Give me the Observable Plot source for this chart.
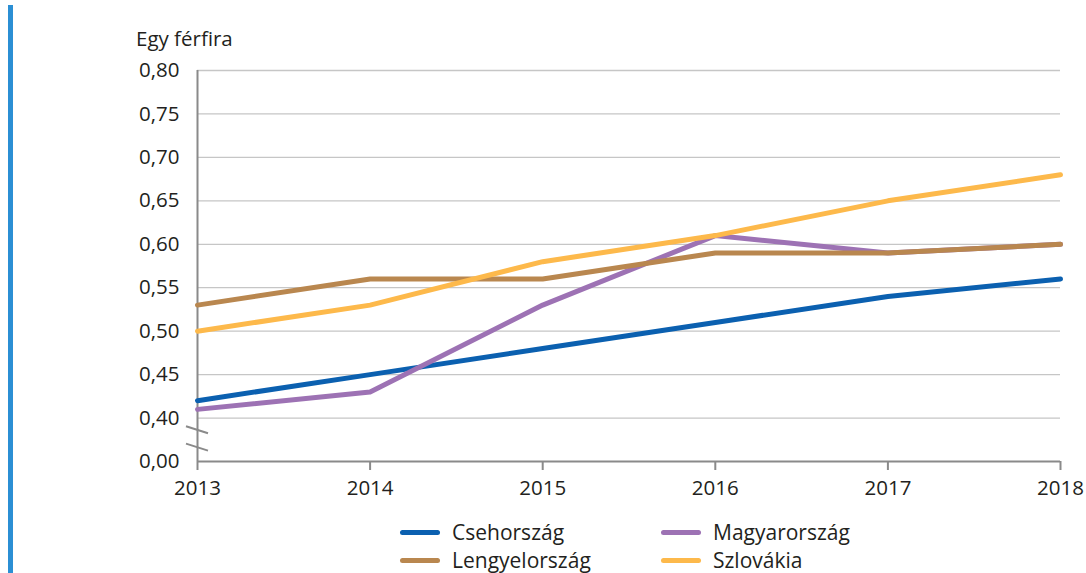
<!DOCTYPE html>
<html>
<head>
<meta charset="utf-8">
<script src="https://cdn.jsdelivr.net/npm/d3@7"></script>
<script src="https://cdn.jsdelivr.net/npm/@observablehq/plot@0.6"></script>
<style>
  html, body { margin: 0; padding: 0; background: #fff; }
  body { width: 1086px; height: 573px; position: relative; overflow: hidden; font-family: "Open Sans", sans-serif; color: #231f20; }
  #bar { position: absolute; left: 8px; top: 5px; width: 5px; height: 568px; background: #2b8fd4; }
  #title { position: absolute; left: 136px; top: 24px; font-size: 20.5px; }
  #chart { position: absolute; left: 0; top: 0; }
  #legend { position: absolute; left: 0; top: 518px; width: 1086px; font-size: 21px; }
  .item { position: absolute; display: flex; align-items: center; height: 28px; }
  .sw { width: 40px; height: 5px; border-radius: 3px; margin-right: 12px; }
</style>
</head>
<body>
<div id="bar"></div>
<div id="title">Egy férfira</div>
<div id="chart"></div>
<div id="legend"></div>
<script>
const years = [2013, 2014, 2015, 2016, 2017, 2018];
const seriesNames = ["Csehország", "Magyarország", "Lengyelország", "Szlovákia"];
const cseh = [0.42, 0.45, 0.48, 0.51, 0.54, 0.56];
const magyar = [0.41, 0.43, 0.53, 0.61, 0.59, 0.60];
const lengyel = [0.53, 0.56, 0.56, 0.59, 0.59, 0.60];
const szlovakia = [0.50, 0.53, 0.58, 0.61, 0.65, 0.68];
const colors = ["#0b60b0", "#9d72b4", "#b9874f", "#fdb94b"];
// y axis with break: the bottom tick stands for 0,00
const yTicks = [0.35, 0.40, 0.45, 0.50, 0.55, 0.60, 0.65, 0.70, 0.75, 0.80];
const yTickLabels = ["0,00", "0,40", "0,45", "0,50", "0,55", "0,60", "0,65", "0,70", "0,75", "0,80"];
const breakValues = [0.386, 0.366];

const valuesBySeries = [cseh, magyar, lengyel, szlovakia];
const data = [];
seriesNames.forEach((s, i) => years.forEach((y, j) => data.push({series: s, year: y, value: valuesBySeries[i][j]})));

const gridTicks = yTicks.slice(1);

const breakMark = (index, scales) => {
  const g = d3.create("svg:g");
  const x0 = scales.x(years[0]);
  for (const b of breakValues) {
    const y0 = scales.y(b);
    g.append("line")
      .attr("x1", x0 - 11).attr("y1", y0 - 3.5)
      .attr("x2", x0 + 11).attr("y2", y0 + 3.5)
      .attr("stroke", "#8a8a8a").attr("stroke-width", 2);
  }
  return g.node();
};

const chart = Plot.plot({
  width: 1086,
  height: 500,
  marginLeft: 197,
  marginRight: 26,
  marginTop: 70,
  marginBottom: 39,
  style: {fontFamily: "Open Sans, sans-serif", fontSize: "20.5px", color: "#231f20", background: "transparent"},
  x: {type: "linear", domain: [years[0], years[years.length - 1]], label: null, axis: null},
  y: {domain: [yTicks[0], yTicks[yTicks.length - 1]], label: null, axis: null},
  color: {domain: seriesNames, range: colors},
  marks: [
    Plot.ruleY(gridTicks, {stroke: "#c6c6c6", strokeWidth: 1.3, strokeOpacity: 1}),
    Plot.axisY(yTicks, {tickSize: 0, tickPadding: 18, tickFormat: (d, i) => yTickLabels[i], fill: "#231f20", fontSize: 20.5}),
    Plot.axisX(years, {tickSize: 9, tickPadding: 10, tickFormat: d => String(d), stroke: "#8a8a8a", strokeWidth: 2, fill: "#231f20", fontSize: 20.5}),
    Plot.ruleY([yTicks[0]], {stroke: "#8a8a8a", strokeWidth: 2}),
    Plot.ruleX([years[0]], {y1: yTicks[0], y2: yTicks[yTicks.length - 1], stroke: "#8a8a8a", strokeWidth: 2}),
    breakMark,
    Plot.line(data, {x: "year", y: "value", z: "series", stroke: "series", strokeWidth: 5, strokeLinejoin: "round", strokeLinecap: "round"})
  ]
});
document.getElementById("chart").appendChild(chart);

// legend
const legend = document.getElementById("legend");
const positions = [[400, 0], [661, 0], [400, 28], [661, 28]];
seriesNames.forEach((name, i) => {
  const it = document.createElement("div");
  it.className = "item";
  it.style.left = positions[i][0] + "px";
  it.style.top = positions[i][1] + "px";
  const sw = document.createElement("div");
  sw.className = "sw";
  sw.style.background = colors[i];
  const t = document.createElement("span");
  t.textContent = name;
  it.appendChild(sw);
  it.appendChild(t);
  legend.appendChild(it);
});
</script>
</body>
</html>
